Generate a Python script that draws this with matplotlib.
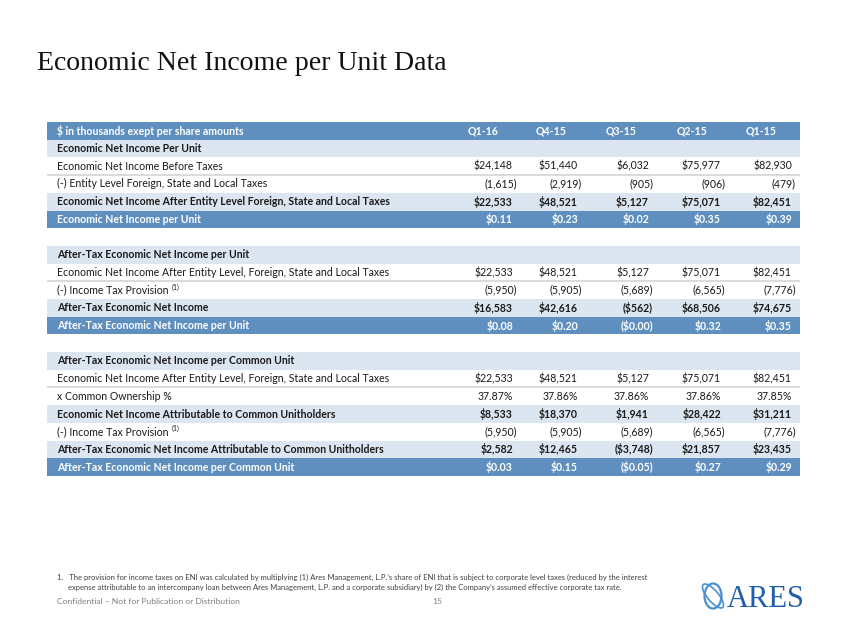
import matplotlib
matplotlib.use("Agg")
import matplotlib.pyplot as plt
from matplotlib.patches import Rectangle, Ellipse

# ---------------- data ----------------
title = "Economic Net Income per Unit Data"
header_label = "$ in thousands exept per share amounts"
quarters = ["Q1-16", "Q4-15", "Q3-15", "Q2-15", "Q1-15"]

eni_before_taxes = ["$24,148", "$51,440", "$6,032", "$75,977", "$82,930"]
entity_taxes = ["(1,615)", "(2,919)", "(905)", "(906)", "(479)"]
eni_after_entity = ["$22,533", "$48,521", "$5,127", "$75,071", "$82,451"]
eni_per_unit = ["$0.11", "$0.23", "$0.02", "$0.35", "$0.39"]
income_tax_provision = ["(5,950)", "(5,905)", "(5,689)", "(6,565)", "(7,776)"]
after_tax_eni = ["$16,583", "$42,616", "($562)", "$68,506", "$74,675"]
after_tax_eni_per_unit = ["$0.08", "$0.20", "($0.00)", "$0.32", "$0.35"]
common_ownership = ["37.87%", "37.86%", "37.86%", "37.86%", "37.85%"]
eni_common = ["$8,533", "$18,370", "$1,941", "$28,422", "$31,211"]
after_tax_eni_common = ["$2,582", "$12,465", "($3,748)", "$21,857", "$23,435"]
after_tax_eni_per_common_unit = ["$0.03", "$0.15", "($0.05)", "$0.27", "$0.29"]

rows = [
    ("Economic Net Income Per Unit", None, "section", False),
    ("Economic Net Income Before Taxes", eni_before_taxes, "plain", False),
    ("(-) Entity Level Foreign, State and Local Taxes", entity_taxes, "plain", False),
    ("Economic Net Income After Entity Level Foreign, State and Local Taxes", eni_after_entity, "bold", False),
    ("Economic Net Income per Unit", eni_per_unit, "unit", False),
    ("", None, "blank", False),
    ("After-Tax Economic Net Income per Unit", None, "section", False),
    ("Economic Net Income After Entity Level, Foreign, State and Local Taxes", eni_after_entity, "plain", False),
    ("(-) Income Tax Provision", income_tax_provision, "plain", True),
    ("After-Tax Economic Net Income", after_tax_eni, "bold", False),
    ("After-Tax Economic Net Income per Unit", after_tax_eni_per_unit, "unit", False),
    ("", None, "blank", False),
    ("After-Tax Economic Net Income per Common Unit", None, "section", False),
    ("Economic Net Income After Entity Level, Foreign, State and Local Taxes", eni_after_entity, "plain", False),
    ("x Common Ownership %", common_ownership, "plain", False),
    ("Economic Net Income Attributable to Common Unitholders", eni_common, "bold", False),
    ("(-) Income Tax Provision", income_tax_provision, "plain", True),
    ("After-Tax Economic Net Income Attributable to Common Unitholders", after_tax_eni_common, "bold", False),
    ("After-Tax Economic Net Income per Common Unit", after_tax_eni_per_common_unit, "unit", False),
]

footnote1 = ("1.   The provision for income taxes on ENI was calculated by multiplying (1) Ares Management, L.P.\u2019s share of ENI that is subject to corporate level taxes (reduced by the interest")
footnote2 = ("expense attributable to an intercompany loan between Ares Management, L.P. and a corporate subsidiary) by (2) the Company\u2019s assumed effective corporate tax rate.")
confidential = "Confidential \u2013 Not for Publication or Distribution"
page_no = "15"

# ---------------- style ----------------
DARK = "#5f8fbf"
LIGHT = "#dce6f1"
LINE = "#d4d4d4"
FONT = ["Lato", "DejaVu Sans"]

W, H = 847, 635
fig = plt.figure(figsize=(W / 100, H / 100), dpi=100)
ax = fig.add_axes([0, 0, 1, 1])
ax.set_xlim(0, W)
ax.set_ylim(H, 0)
ax.axis("off")

ax.text(37, 70, title, family=["Liberation Serif"], fontsize=20.1, color="#111111",
        va="baseline", ha="left")

x0, x1 = 47, 800
top = 122
rh = 17.7
label_x = 57
val_x = [513, 578, 649, 721, 792]
hdr_x = [498, 567, 636, 707, 777]
fs = 7.6

# header row
ax.add_patch(Rectangle((x0, top), x1 - x0, rh, facecolor=DARK, edgecolor="none"))
ax.text(label_x, top + rh / 2, header_label, family=FONT, fontsize=fs, fontweight="bold",
        color="white", va="center", ha="left")
for q, x in zip(quarters, hdr_x):
    ax.text(x, top + rh / 2, q, family=FONT, fontsize=fs, fontweight="bold",
            color="white", va="center", ha="right")

fig.canvas.draw()
renderer = fig.canvas.get_renderer()

styles = [r[2] for r in rows]
for i, (label, vals, style, sup) in enumerate(rows):
    y = top + rh * (i + 1)
    if style == "blank":
        continue
    if style in ("section", "bold"):
        ax.add_patch(Rectangle((x0, y), x1 - x0, rh, facecolor=LIGHT, edgecolor="none"))
    elif style == "unit":
        ax.add_patch(Rectangle((x0, y), x1 - x0, rh, facecolor=DARK, edgecolor="none"))
    if style == "plain" and i + 1 < len(rows) and styles[i + 1] == "plain":
        ax.plot([x0, x1], [y + rh, y + rh], color=LINE, lw=1.2, solid_capstyle="butt")
    weight = "normal" if style == "plain" else "bold"
    color = "white" if style == "unit" else "#1a1a1a"
    t = ax.text(label_x, y + rh / 2, label, family=FONT, fontsize=fs, fontweight=weight,
                color=color, va="center", ha="left")
    if sup:
        bb = t.get_window_extent(renderer=renderer)
        xs = bb.x1 + 3
        ax.text(xs, y + rh / 2 - 3, "(1)", family=FONT, fontsize=5, color=color,
                va="center", ha="left")
    if vals:
        for v, x in zip(vals, val_x):
            xx = x + 4 if v.endswith(")") else x
            ax.text(xx, y + rh / 2, v, family=FONT, fontsize=fs, fontweight=weight,
                    color=color, va="center", ha="right")

# footnotes
ax.text(57, 577, footnote1, family=FONT, fontsize=5.5, color="#404040", va="center", ha="left")
ax.text(68, 587, footnote2, family=FONT, fontsize=5.5, color="#404040", va="center", ha="left")
ax.text(57, 602, confidential, family=FONT, fontsize=6.1, color="#808080", va="center", ha="left")
ax.text(432, 602, page_no, family=FONT, fontsize=6.1, color="#808080", va="center", ha="left")

# ARES logo
ax.add_patch(Ellipse((713, 596), 17, 25, angle=0, fill=False, edgecolor="#4a90d0", lw=1.6))
ax.add_patch(Ellipse((713, 596), 30, 11, angle=50, fill=False, edgecolor="#4a90d0", lw=1.2))
ax.text(727, 607, "ARES", family=["Liberation Serif"], fontsize=22, color="#1f5ea8",
        va="baseline", ha="left")

fig.savefig("out.png", dpi=100)
